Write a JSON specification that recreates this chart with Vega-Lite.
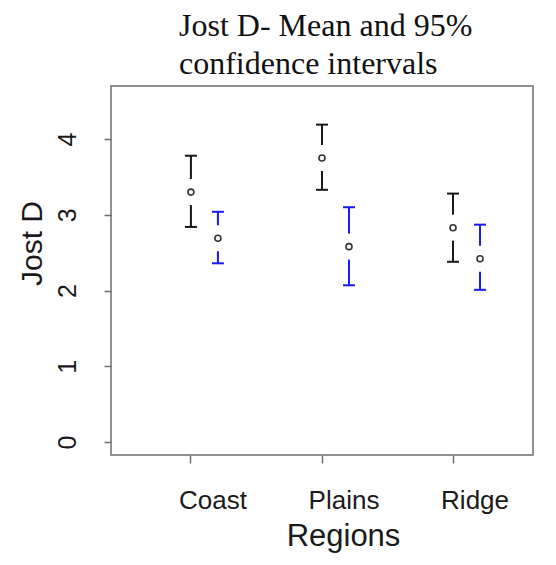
{
  "$schema": "https://vega.github.io/schema/vega-lite/v6.json",
  "autosize": "none",
  "width": 422,
  "height": 369,
  "padding": {"left": 111, "top": 86, "right": 23, "bottom": 110},
  "background": "white",
  "config": {
    "view": {"stroke": "#6e6e6e", "strokeWidth": 1.5},
    "font": "Liberation Sans"
  },
  "title": {
    "text": ["Jost D- Mean and 95%", "confidence intervals"],
    "anchor": "start",
    "frame": "group",
    "dx": 68,
    "font": "Liberation Serif",
    "fontSize": 32,
    "fontWeight": "normal",
    "color": "#111",
    "lineHeight": 38,
    "offset": 5
  },
  "data": {
    "values": [
      {"region": "Coast", "group": "A", "mean": 3.30, "lower": 2.84, "upper": 3.78},
      {"region": "Coast", "group": "B", "mean": 2.69, "lower": 2.36, "upper": 3.04},
      {"region": "Plains", "group": "A", "mean": 3.75, "lower": 3.33, "upper": 4.19},
      {"region": "Plains", "group": "B", "mean": 2.58, "lower": 2.07, "upper": 3.10},
      {"region": "Ridge", "group": "A", "mean": 2.83, "lower": 2.38, "upper": 3.28},
      {"region": "Ridge", "group": "B", "mean": 2.42, "lower": 2.01, "upper": 2.87}
    ]
  },
  "encoding": {
    "x": {
      "field": "region",
      "type": "nominal",
      "scale": {"domain": ["Coast", "Plains", "Ridge"], "paddingInner": 0, "paddingOuter": 0.11},
      "axis": {
        "title": "Regions",
        "labelAngle": 0,
        "labelFontSize": 26,
        "labelColor": "#1a1a1a",
        "labelBaseline": "alphabetic",
        "labelPadding": 45,
        "labelOffset": 22,
        "tickSize": 8,
        "tickColor": "#6e6e6e",
        "tickWidth": 1.5,
        "domain": false,
        "titleFontSize": 31,
        "titleFontWeight": "normal",
        "titleColor": "#1a1a1a",
        "titleBaseline": "alphabetic",
        "titleAlign": "center",
        "titleX": 232,
        "titleY": 90
      }
    },
    "xOffset": {
      "field": "group",
      "type": "nominal",
      "scale": {"type": "point", "domain": ["A", "B"], "range": [65.5, 92.5], "padding": 0}
    },
    "color": {
      "field": "group",
      "type": "nominal",
      "scale": {"domain": ["A", "B"], "range": ["#161616", "#1818f0"]},
      "legend": null
    }
  },
  "layer": [
    {
      "mark": {"type": "rule", "strokeWidth": 2},
      "encoding": {
        "y": {
          "field": "lower",
          "type": "quantitative",
          "scale": {"domain": [-0.17, 4.7], "nice": false, "zero": false},
          "axis": {
            "title": "Jost D",
            "values": [0, 1, 2, 3, 4],
            "format": "d",
            "grid": false,
            "domain": false,
            "labelAngle": -90,
            "labelAlign": "center",
            "labelBaseline": "middle",
            "labelPadding": 37,
            "labelFontSize": 25,
            "labelColor": "#1a1a1a",
            "tickSize": 7,
            "tickColor": "#6e6e6e",
            "tickWidth": 1.5,
            "titleFontSize": 30,
            "titleFontWeight": "normal",
            "titleColor": "#1a1a1a",
            "titleAngle": -90,
            "titleAlign": "center",
            "titleBaseline": "middle",
            "titleX": -79,
            "titleY": 157
          }
        },
        "y2": {"field": "upper"}
      }
    },
    {
      "mark": {"type": "point", "shape": "M-0.25,-1H0.25V1H-0.25Z", "filled": true, "fill": "white", "opacity": 1, "strokeWidth": 0, "size": 676},
      "encoding": {
        "y": {"field": "mean", "type": "quantitative"},
        "color": {"value": "white"}
      }
    },
    {
      "mark": {"type": "point", "shape": "stroke", "size": 144, "strokeWidth": 2, "opacity": 1},
      "encoding": {"y": {"field": "upper", "type": "quantitative"}}
    },
    {
      "mark": {"type": "point", "shape": "stroke", "size": 144, "strokeWidth": 2, "opacity": 1},
      "encoding": {"y": {"field": "lower", "type": "quantitative"}}
    },
    {
      "mark": {"type": "point", "shape": "circle", "size": 36, "strokeWidth": 1.6, "filled": false, "opacity": 1},
      "encoding": {
        "y": {"field": "mean", "type": "quantitative"},
        "color": {"value": "#333333"}
      }
    }
  ]
}
